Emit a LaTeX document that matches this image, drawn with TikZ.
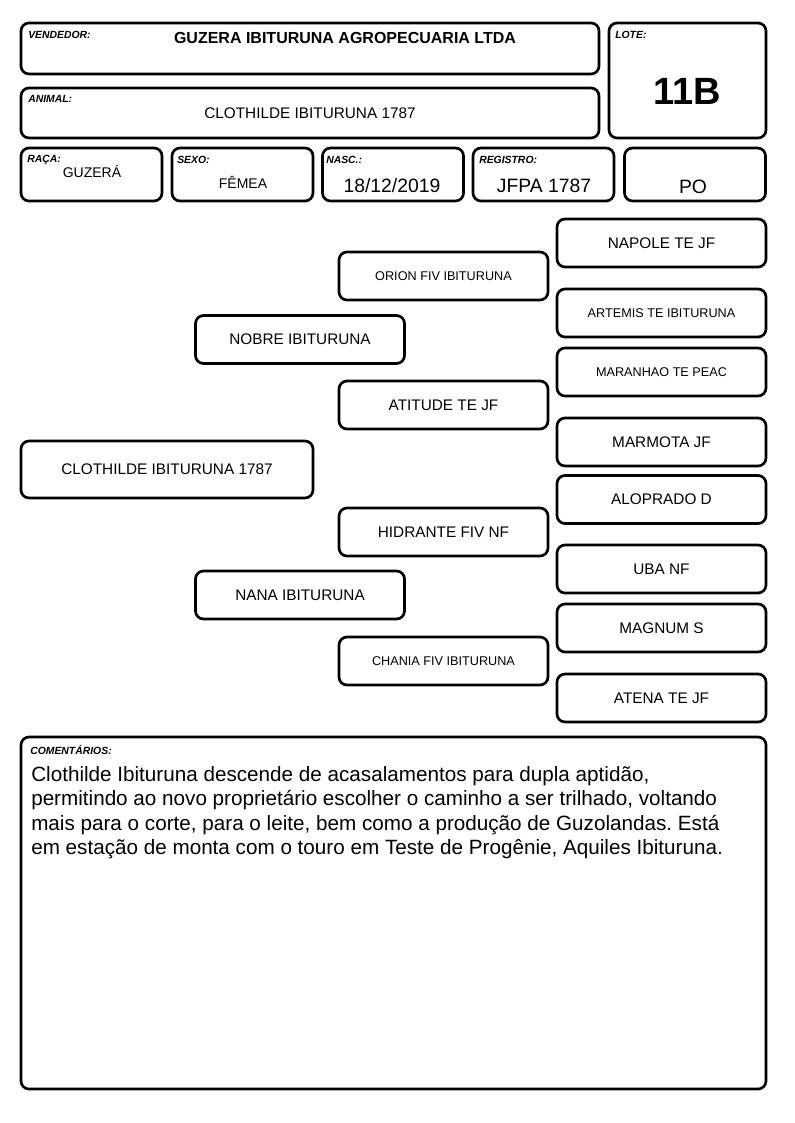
\documentclass[tikz,border=0pt]{standalone}
\usepackage{fontspec}
\setmainfont{Liberation Sans}
\usepackage{tikz}
\newdimen\pxu \pxu=0.75pt
\frenchspacing

\begin{document}
\begin{tikzpicture}[x=0.75pt, y=-0.75pt,
    box/.style={draw, line width=2pt, rounded corners=6pt, inner sep=0pt},
    tag/.style={anchor=north west, inner sep=0pt, font=\fontsize{7.8}{8}\selectfont\bfseries\itshape},
    val/.style={anchor=base, inner sep=0pt, font=\fontsize{10.5}{12}\selectfont},
    bigval/.style={anchor=base, inner sep=0pt, font=\fontsize{14.5}{16}\selectfont},
    ped/.style={box, minimum width=209\pxu, minimum height=48\pxu, font=\fontsize{11.5}{13}\selectfont},
    pedsmall/.style={ped, font=\fontsize{9.5}{11}\selectfont},
    cell/.style={box, minimum width=141\pxu, minimum height=53\pxu}]
    \useasboundingbox (0,0) rectangle (794,1123);

    \node [box, minimum width=578\pxu, minimum height=51\pxu] (vendedor) at (310,48.5) {};
    \node [box, minimum width=157\pxu, minimum height=115\pxu] (lote) at (687.5,80.5) {};
    \node [box, minimum width=578\pxu, minimum height=50\pxu] (animal) at (310,113) {};
    \node [cell] (raca) at (91.5,174.5) {};
    \node [cell] (sexo) at (242.5,174.5) {};
    \node [cell] (nasc) at (393,174.5) {};
    \node [cell] (registro) at (543.5,174.5) {};
    \node [cell] (po) at (695,174.5) {};

    \node [tag] (vendedortag) at (28,31) {VENDEDOR:};
    \node [tag] (lotetag) at (615,31) {LOTE:};
    \node [tag] (animaltag) at (28,95) {ANIMAL:};
    \node [tag] (racatag) at (27,155) {RAÇA:};
    \node [tag] (sexotag) at (177,156) {SEXO:};
    \node [tag] (nasctag) at (326,156) {NASC.:};
    \node [tag] (registrotag) at (479,156) {REGISTRO:};

    \node [anchor=base, inner sep=0pt, font=\fontsize{12}{14}\selectfont\bfseries] (vendedorval) at (345,44) {GUZERA IBITURUNA AGROPECUARIA LTDA};
    \node [anchor=base, inner sep=0pt, font=\fontsize{11.5}{13}\selectfont] (animalval) at (310,118.5) {CLOTHILDE IBITURUNA 1787};
    \node [anchor=base, inner sep=0pt, font=\fontsize{28.5}{30}\selectfont\bfseries] (loteval) at (687,104.5) {11B};
    \node [val] (racaval) at (92,178) {GUZERÁ};
    \node [val] (sexoval) at (243,189) {FÊMEA};
    \node [bigval] (nascval) at (392,193) {18/12/2019};
    \node [bigval] (registroval) at (544,193) {JFPA 1787};
    \node [bigval] (poval) at (693,193.5) {PO};

    \node [box, minimum width=292\pxu, minimum height=57\pxu, font=\fontsize{11.5}{13}\selectfont] (self) at (167,469.5) {CLOTHILDE IBITURUNA 1787};

    \node [ped] (pai) at (300,339.5) {NOBRE IBITURUNA};
    \node [ped] (mae) at (300,595) {NANA IBITURUNA};

    \node [pedsmall] (avopp) at (443.5,276) {ORION FIV IBITURUNA};
    \node [ped] (avopm) at (443.5,405) {ATITUDE TE JF};
    \node [ped] (avomp) at (443.5,532) {HIDRANTE FIV NF};
    \node [pedsmall] (avomm) at (443.5,661) {CHANIA FIV IBITURUNA};

    \node [ped] (bisa1) at (661.5,243) {NAPOLE TE JF};
    \node [pedsmall] (bisa2) at (661.5,313) {ARTEMIS TE IBITURUNA};
    \node [pedsmall] (bisa3) at (661.5,372) {MARANHAO TE PEAC};
    \node [ped] (bisa4) at (661.5,442) {MARMOTA JF};
    \node [ped] (bisa5) at (661.5,499.5) {ALOPRADO D};
    \node [ped] (bisa6) at (661.5,569) {UBA NF};
    \node [ped] (bisa7) at (661.5,628) {MAGNUM S};
    \node [ped] (bisa8) at (661.5,698) {ATENA TE JF};

    \node [box, minimum width=745\pxu, minimum height=352\pxu] (comentarios) at (393.5,913) {};
    \node [tag] (comentariostag) at (30,745) {COMENTÁRIOS:};
    \node [anchor=north west, inner sep=0pt, align=left, font=\fontsize{15.5}{18.3}\selectfont] (comentariostxt) at (31,766) {Clothilde Ibituruna descende de acasalamentos para dupla aptidão,\\permitindo ao novo proprietário escolher o caminho a ser trilhado, voltando\\mais para o corte, para o leite, bem como a produção de Guzolandas. Está\\em estação de monta com o touro em Teste de Progênie, Aquiles Ibituruna.};
\end{tikzpicture}
\end{document}
